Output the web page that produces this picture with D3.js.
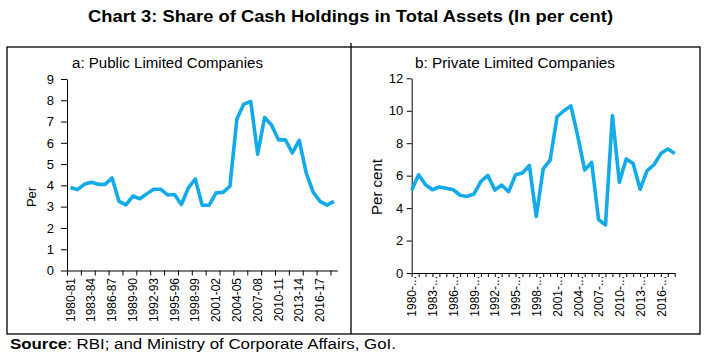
<!DOCTYPE html>
<html>
<head>
<meta charset="utf-8">
<script src="https://cdn.jsdelivr.net/npm/d3@7"></script>
<style>
  body { margin: 0; background: #fff; }
  svg { display: block; font-family: 'Liberation Sans', Arial, sans-serif; }
</style>
</head>
<body>
<div id="chart"></div>
<script>
// Financial years on the x axis of both panels
const years = [
  '1980-81', '1981-82', '1982-83', '1983-84', '1984-85', '1985-86', '1986-87', '1987-88',
  '1988-89', '1989-90', '1990-91', '1991-92', '1992-93', '1993-94', '1994-95', '1995-96',
  '1996-97', '1997-98', '1998-99', '1999-00', '2000-01', '2001-02', '2002-03', '2003-04',
  '2004-05', '2005-06', '2006-07', '2007-08', '2008-09', '2009-10', '2010-11', '2011-12',
  '2012-13', '2013-14', '2014-15', '2015-16', '2016-17', '2017-18', '2018-19'
]

// Cash holdings as per cent of total assets
const publicCash = [
  3.9, 3.8, 4.05, 4.15, 4.05, 4.05, 4.35, 3.25, 3.08, 3.5, 3.37, 3.6, 3.82, 3.82, 3.55, 3.57,
  3.1, 3.88, 4.3, 3.07, 3.07, 3.65, 3.67, 3.96, 7.12, 7.82, 7.94, 5.47, 7.19, 6.84, 6.14, 6.14,
  5.53, 6.12, 4.59, 3.68, 3.25, 3.07, 3.25
]
const privateCash = [
  5.1, 6.05, 5.44, 5.13, 5.3, 5.22, 5.13, 4.79, 4.72, 4.87, 5.64, 6.02, 5.11, 5.42, 5.01, 6.05,
  6.16, 6.63, 3.48, 6.42, 6.95, 9.63, 10.0, 10.3, 8.42, 6.34, 6.81, 3.29, 2.96, 9.71, 5.59, 7.03,
  6.75, 5.16, 6.29, 6.67, 7.36, 7.65, 7.36
]

// Y axis tick values
const publicTicks = [0, 1, 2, 3, 4, 5, 6, 7, 8, 9]
const privateTicks = [0, 2, 4, 6, 8, 10, 12]

const lineColour = '#12aae8'

const svg = d3.select('#chart')
  .append('svg')
  .attr('width', 704)
  .attr('height', 360)

// Main title
svg.append('text')
  .attr('x', 350.5)
  .attr('y', 22)
  .style('text-anchor', 'middle')
  .style('font-weight', 'bold')
  .style('font-size', '17px')
  .attr('textLength', 525)
  .attr('lengthAdjust', 'spacingAndGlyphs')
  .text('Chart 3: Share of Cash Holdings in Total Assets (In per cent)')

// Frame round the two panels
svg.append('rect')
  .attr('x', 7)
  .attr('y', 47)
  .attr('width', 693)
  .attr('height', 287)
  .style('fill', 'none')
  .style('stroke', '#000')
  .style('stroke-width', 1.3)
svg.append('line')
  .attr('x1', 351).attr('x2', 351)
  .attr('y1', 43).attr('y2', 334)
  .style('stroke', '#000')
  .style('stroke-width', 1.3)

function styleAxis(g, fontSize) {
  g.selectAll('.domain').style('stroke', '#000')
  g.selectAll('.tick line').style('stroke', '#000')
  g.selectAll('text').style('font-size', fontSize).style('fill', '#000').style('font-family', 'Liberation Sans, Arial, sans-serif')
}

function drawLine(g, values, x, y) {
  const line = d3.line()
    .x((d, i) => x(years[i]))
    .y(d => y(d))
  g.append('path')
    .datum(values)
    .attr('d', line)
    .style('fill', 'none')
    .style('stroke', lineColour)
    .style('stroke-width', 3.6)
    .style('stroke-linejoin', 'round')
}

// Panel a: categories sit between tick marks
function publicPanel() {
  const left = 67, right = 337.4, top = 79, bottom = 270.5
  const yScale = d3.scaleLinear().domain([0, 9]).range([bottom, top])
  const xBand = d3.scaleBand().domain(years).range([left, right])
  const xIndex = d3.scaleLinear().domain([0, years.length]).range([left, right])
  const xMid = d => xBand(d) + xBand.bandwidth() / 2

  svg.append('text')
    .attr('x', 72)
    .attr('y', 68)
    .style('font-size', '14px')
    .attr('textLength', 191)
    .attr('lengthAdjust', 'spacingAndGlyphs')
    .text('a: Public Limited Companies')

  svg.append('text')
    .attr('transform', `translate(31.5,197) rotate(-90)`)
    .attr('dy', '0.35em')
    .style('text-anchor', 'middle')
    .style('font-size', '13px')
    .text('Per')

  const yAxis = svg.append('g')
    .attr('transform', `translate(${left},0)`)
    .call(d3.axisLeft(yScale).tickValues(publicTicks).tickSize(6).tickSizeOuter(0).tickPadding(7))
  styleAxis(yAxis, '13px')

  // tick marks every two years
  const tickAxis = svg.append('g')
    .attr('transform', `translate(0,${bottom})`)
    .call(d3.axisBottom(xIndex)
      .tickValues(d3.range(0, years.length + 1, 2))
      .tickFormat('')
      .tickSize(5)
      .tickSizeOuter(0))
  styleAxis(tickAxis, '12px')

  // labels every three years
  const labelAxis = svg.append('g')
    .attr('transform', `translate(0,${bottom})`)
    .call(d3.axisBottom(xBand)
      .tickValues(years.filter((d, i) => i % 3 === 0))
      .tickSize(0))
  labelAxis.select('.domain').remove()
  styleAxis(labelAxis, '12px')
  labelAxis.selectAll('text')
    .attr('transform', 'rotate(-90)')
    .attr('x', -7.5)
    .attr('y', 0)
    .attr('dy', '0.35em')
    .style('text-anchor', 'end')

  const g = svg.append('g')
  drawLine(g, publicCash, xMid, yScale)
}

// Panel b: points sit on tick marks
function privatePanel() {
  const left = 411.7, right = 674.7, top = 78.3, bottom = 273
  const yScale = d3.scaleLinear().domain([0, 12]).range([bottom, top])
  const xPoint = d3.scalePoint().domain(years).range([left, right])

  svg.append('text')
    .attr('x', 415)
    .attr('y', 68)
    .style('font-size', '14px')
    .attr('textLength', 200)
    .attr('lengthAdjust', 'spacingAndGlyphs')
    .text('b: Private Limited Companies')

  svg.append('text')
    .attr('transform', `translate(376.5,187) rotate(-90)`)
    .attr('dy', '0.35em')
    .style('text-anchor', 'middle')
    .style('font-size', '15px')
    .text('Per cent')

  const yAxis = svg.append('g')
    .attr('transform', `translate(${left},0)`)
    .call(d3.axisLeft(yScale).tickValues(privateTicks).tickSize(5).tickSizeOuter(0).tickPadding(3.5))
  styleAxis(yAxis, '13px')

  const xAxis = svg.append('g')
    .attr('transform', `translate(0,${bottom})`)
    .call(d3.axisBottom(xPoint)
      .tickValues(years)
      .tickFormat((d, i) => i % 3 === 0 ? d.slice(0, 5) + '...' : '')
      .tickSize(4)
      .tickSizeOuter(0))
  styleAxis(xAxis, '12px')
  xAxis.selectAll('text')
    .attr('transform', 'rotate(-90)')
    .attr('x', -3)
    .attr('y', 0)
    .attr('dy', '0.35em')
    .style('text-anchor', 'end')

  const g = svg.append('g')
  drawLine(g, privateCash, xPoint, yScale)
}

publicPanel()
privatePanel()

// Source note
const source = svg.append('text')
  .attr('x', 10)
  .attr('y', 349)
  .style('font-size', '14px')
  .attr('textLength', 386)
  .attr('lengthAdjust', 'spacingAndGlyphs')
source.append('tspan').style('font-weight', 'bold').text('Source')
source.append('tspan').text(': RBI; and Ministry of Corporate Affairs, GoI.')
</script>
</body>
</html>
